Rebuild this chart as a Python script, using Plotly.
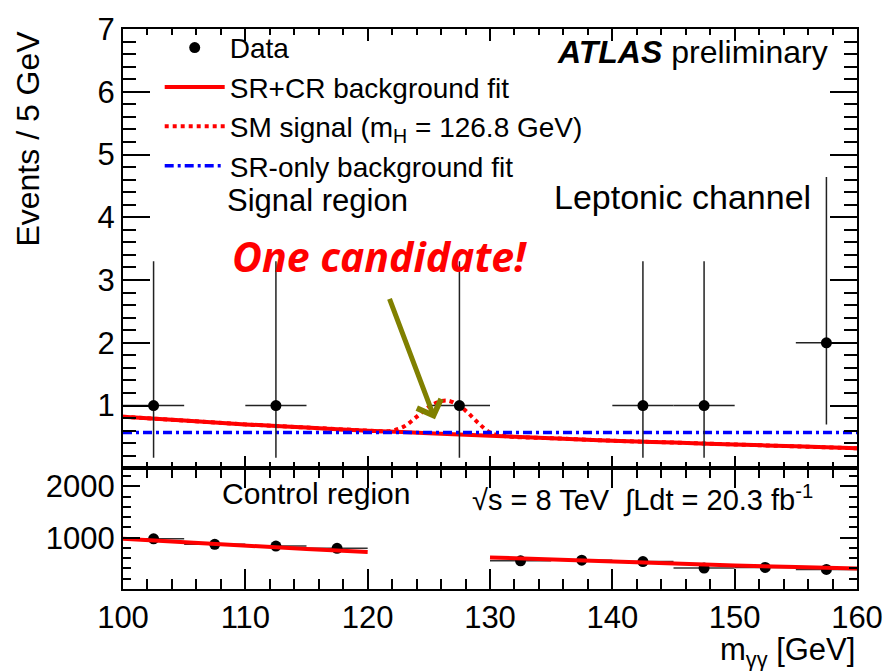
import plotly.graph_objects as go
from plotly.subplots import make_subplots

# ---------------- Signal region (leptonic channel) ----------------
sr_x = [102.5, 112.5, 127.5, 142.5, 147.5, 157.5]
sr_y = [1, 1, 1, 1, 1, 2]
sr_err_up = [2.30, 2.30, 2.30, 2.30, 2.30, 2.64]
sr_err_dn = [0.83, 0.83, 0.83, 0.83, 0.83, 1.30]
sr_halfbin = [2.5, 2.5, 2.5, 2.5, 2.5, 2.5]

# SR+CR background fit
bkg_x = [100, 105, 110, 115, 120, 125, 130, 135, 140, 145, 150, 155, 160]
bkg_y = [0.82, 0.76, 0.70, 0.65, 0.60, 0.56, 0.52, 0.48, 0.44, 0.41, 0.38, 0.35, 0.32]

# SM signal (mH = 126.8 GeV) on top of background
sig_x = [100, 105, 110, 115, 120, 121, 122, 123, 124, 125, 126, 126.5, 127, 128,
         129, 130, 131, 132, 135, 140, 145, 150, 155, 160]
sig_y = [0.82, 0.76, 0.70, 0.65, 0.60, 0.59, 0.60, 0.67, 0.82, 0.98, 1.07, 1.08, 1.05, 0.92,
         0.73, 0.57, 0.52, 0.50, 0.48, 0.44, 0.41, 0.38, 0.35, 0.32]

# SR-only background fit
sro_x = [100, 160]
sro_y = [0.57, 0.57]

# ---------------- Control region ----------------
cr_x = [102.5, 107.5, 112.5, 117.5, 132.5, 137.5, 142.5, 147.5, 152.5, 157.5]
cr_y = [977, 869, 837, 792, 548, 561, 535, 407, 420, 381]
cr_halfbin = [2.5] * 10
cr_fit_x = [100, 105, 110, 115, 120, None, 130, 135, 140, 145, 150, 155, 160]
cr_fit_y = [977, 907, 841, 780, 722, None, 615, 572, 532, 494, 459, 427, 398]

x_ticks = [100, 110, 120, 130, 140, 150, 160]
sr_yticks = [1, 2, 3, 4, 5, 6, 7]
cr_yticks = [1000, 2000]

FONT = "Liberation Sans, Arial, Helvetica, sans-serif"
RED = "#ff0000"
BLUE = "#0000ff"

fig = make_subplots(rows=2, cols=1, shared_xaxes=True, vertical_spacing=0,
                    row_heights=[0.7845, 0.2155])

# Top panel
fig.add_trace(go.Scatter(x=sig_x, y=sig_y, mode="lines", line_shape="spline",
                         line=dict(color=RED, width=4, dash="dot"),
                         name="SM signal (m<sub>H</sub> = 126.8 GeV)", legendrank=3),
              row=1, col=1)
fig.add_trace(go.Scatter(x=bkg_x, y=bkg_y, mode="lines", line_shape="spline",
                         line=dict(color=RED, width=4),
                         name="SR+CR background fit", legendrank=2),
              row=1, col=1)
fig.add_trace(go.Scatter(x=sro_x, y=sro_y, mode="lines",
                         line=dict(color=BLUE, width=3.5, dash="9px,4px,3px,4px"),
                         name="SR-only background fit", legendrank=4),
              row=1, col=1)
fig.add_trace(go.Scatter(x=sr_x, y=sr_y, mode="markers",
                         marker=dict(color="black", size=11),
                         error_y=dict(type="data", symmetric=False, array=sr_err_up,
                                      arrayminus=sr_err_dn, color="#222222",
                                      thickness=1.5, width=0),
                         error_x=dict(type="data", array=sr_halfbin, color="#222222",
                                      thickness=1.5, width=0),
                         name="Data", legendrank=1),
              row=1, col=1)

# Bottom panel
fig.add_trace(go.Scatter(x=cr_x, y=cr_y, mode="markers",
                         marker=dict(color="black", size=11),
                         error_x=dict(type="data", array=cr_halfbin, color="#333333",
                                      thickness=1.5, width=0),
                         showlegend=False),
              row=2, col=1)
fig.add_trace(go.Scatter(x=cr_fit_x, y=cr_fit_y, mode="lines",
                         line=dict(color=RED, width=4), connectgaps=False,
                         showlegend=False),
              row=2, col=1)

axis_common = dict(showline=True, linecolor="black", linewidth=2, mirror="ticks",
                   ticks="inside", tickcolor="black", showgrid=False, zeroline=False,
                   tickfont=dict(family=FONT, size=31, color="black"))

fig.update_xaxes(range=[100, 160], tickvals=x_ticks, ticklen=12, tickwidth=1.5,
                 minor=dict(dtick=2, tick0=100, ticklen=6, ticks="inside",
                            tickcolor="black", tickwidth=1.5),
                 showticklabels=False, **axis_common, row=1, col=1)
fig.update_xaxes(range=[100, 160], tickvals=x_ticks, ticklen=20, tickwidth=1.5,
                 minor=dict(dtick=2, tick0=100, ticklen=10, ticks="inside",
                            tickcolor="black", tickwidth=1.5),
                 **axis_common, row=2, col=1)
fig.update_yaxes(range=[0, 7], tickmode="array", tickvals=sr_yticks, ticklen=27,
                 tickwidth=1.5,
                 minor=dict(tickmode="linear", dtick=0.2, tick0=0, ticklen=13,
                            ticks="inside", tickcolor="black", tickwidth=1.5),
                 **axis_common, row=1, col=1)
fig.update_yaxes(range=[0, 2350], tickmode="array", tickvals=cr_yticks, ticklen=17,
                 tickwidth=1.5,
                 minor=dict(tickmode="linear", dtick=200, tick0=0, ticklen=8,
                            ticks="inside", tickcolor="black", tickwidth=1.5),
                 **axis_common, row=2, col=1)

annotations = [
    dict(text="Events / 5 GeV", xref="paper", yref="paper", x=-0.13, y=1.0,
         xanchor="center", yanchor="top", textangle=-90, showarrow=False,
         font=dict(family=FONT, size=32, color="black")),
    dict(text="m<sub>γγ</sub> [GeV]", xref="paper", yref="paper", x=1.0, y=-0.112,
         xanchor="right", yanchor="middle", showarrow=False,
         font=dict(family=FONT, size=31, color="black")),
    dict(text="<b><i>ATLAS</i></b> preliminary", xref="x", yref="y", x=157.8, y=6.63,
         xanchor="right", yanchor="middle", showarrow=False,
         font=dict(family=FONT, size=32, color="black")),
    dict(text="Signal region", xref="x", yref="y", x=108.3, y=4.27,
         xanchor="left", yanchor="middle", showarrow=False,
         font=dict(family=FONT, size=31, color="black")),
    dict(text="Leptonic channel", xref="x", yref="y", x=135.1, y=4.33,
         xanchor="left", yanchor="middle", showarrow=False,
         font=dict(family=FONT, size=34, color="black")),
    dict(text="<b><i>One candidate!</i></b>", xref="x", yref="y", x=121.0, y=3.38,
         xanchor="center", yanchor="middle", showarrow=False,
         font=dict(family="Open Sans", size=41, color=RED)),
    dict(text="", xref="x", yref="y", x=125.5, y=0.78, ax=-46, ay=-122,
         showarrow=True, arrowhead=4, arrowwidth=5, arrowsize=1,
         arrowcolor="#808000"),
    dict(text="Control region", xref="x2", yref="y2", x=107.9, y=1856,
         xanchor="left", yanchor="middle", showarrow=False,
         font=dict(family=FONT, size=30, color="black")),
    dict(text="√s = 8 TeV  ∫Ldt = 20.3 fb<sup>-1</sup>", xref="x2", yref="y2",
         x=128.4, y=1760, xanchor="left", yanchor="middle", showarrow=False,
         font=dict(family=FONT, size=29, color="black")),
]

fig.update_layout(
    width=895, height=671,
    margin=dict(l=123, r=33, t=20, b=82),
    paper_bgcolor="white", plot_bgcolor="white",
    font=dict(family=FONT, color="black"),
    annotations=annotations,
    legend=dict(x=0.05, y=1.011, xanchor="left", yanchor="top",
                bgcolor="rgba(0,0,0,0)", borderwidth=0, itemwidth=60,
                font=dict(family=FONT, size=28, color="black"),
                traceorder="normal"),
)

fig.write_html("out.html")
